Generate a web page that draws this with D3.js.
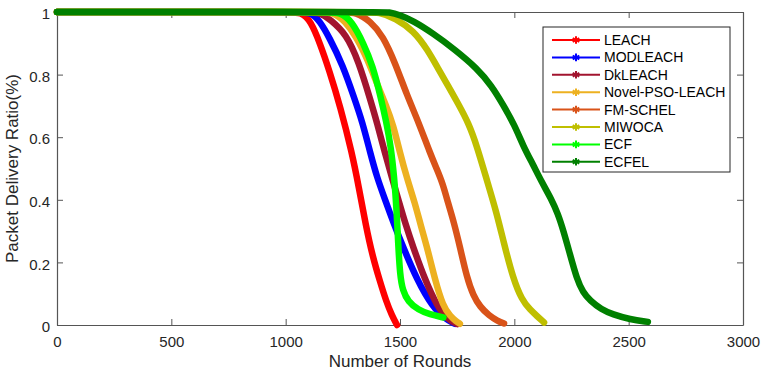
<!DOCTYPE html>
<html>
<head>
<meta charset="utf-8">
<script src="https://cdn.jsdelivr.net/npm/d3@7"></script>
<style>
  html, body { margin: 0; padding: 0; background: #ffffff; }
  svg { display: block; font-family: "Liberation Sans", Arial, Helvetica, sans-serif; }
</style>
</head>
<body>
<svg id="chart" width="763" height="373"></svg>
<script>
// Packet delivery ratio vs. rounds for each clustering protocol: [round, ratio]
const LEACH = [[0,1],[1000,1],[1070,1],[1110,0.97],[1150,0.9],[1190,0.815],[1240,0.695],[1290,0.55],[1320,0.44],[1350,0.32],[1380,0.22],[1412,0.14],[1440,0.075],[1465,0.03],[1487,0]];
const MODLEACH = [[0,1],[1040,1],[1110,1],[1150,0.97],[1190,0.92],[1250,0.83],[1300,0.725],[1335,0.65],[1370,0.55],[1400,0.47],[1435,0.40],[1475,0.32],[1513,0.25],[1574,0.145],[1640,0.06],[1700,0.018],[1740,0.004]];
const DkLEACH = [[0,1],[1080,1],[1150,1],[1195,0.975],[1265,0.93],[1320,0.84],[1370,0.72],[1400,0.645],[1434,0.55],[1465,0.47],[1495,0.395],[1525,0.32],[1557,0.25],[1609,0.145],[1662,0.06],[1710,0.016],[1750,0.003]];
const NovelPSOLEACH = [[0,1],[1140,1],[1210,1],[1260,0.97],[1310,0.92],[1360,0.845],[1400,0.77],[1440,0.70],[1470,0.64],[1500,0.55],[1530,0.47],[1565,0.39],[1590,0.32],[1618,0.25],[1653,0.145],[1688,0.06],[1720,0.028],[1745,0.012],[1762,0.004]];
const FMSCHEL = [[0,1],[1240,1],[1310,1],[1370,0.97],[1425,0.925],[1480,0.835],[1530,0.735],[1580,0.65],[1631,0.55],[1660,0.50],[1688,0.45],[1710,0.39],[1735,0.33],[1762,0.25],[1793,0.15],[1820,0.095],[1850,0.058],[1890,0.03],[1925,0.014],[1955,0.005]];
const MIWOCA = [[0,1],[1340,1],[1410,1],[1480,0.98],[1560,0.94],[1620,0.88],[1670,0.815],[1710,0.765],[1752,0.71],[1800,0.645],[1835,0.575],[1885,0.45],[1920,0.365],[1955,0.26],[1994,0.15],[2033,0.08],[2070,0.048],[2100,0.028],[2130,0.008]];
const ECF = [[0,1],[1170,1],[1240,1],[1290,0.97],[1340,0.9],[1380,0.83],[1415,0.73],[1440,0.65],[1460,0.57],[1475,0.47],[1485,0.37],[1492,0.26],[1500,0.16],[1512,0.11],[1535,0.075],[1580,0.048],[1630,0.034],[1690,0.024]];
const ECFEL = [[0,1],[1400,1],[1455,1],[1500,0.99],[1557,0.972],[1644,0.932],[1740,0.88],[1837,0.82],[1900,0.765],[1950,0.705],[2000,0.64],[2040,0.57],[2080,0.515],[2121,0.455],[2160,0.405],[2191,0.355],[2215,0.3],[2240,0.235],[2274,0.145],[2300,0.105],[2331,0.078],[2380,0.05],[2430,0.034],[2506,0.018],[2584,0.01]];

const seriesNames = ["LEACH","MODLEACH","DkLEACH","Novel-PSO-LEACH","FM-SCHEL","MIWOCA","ECF","ECFEL"];
const seriesData = [LEACH, MODLEACH, DkLEACH, NovelPSOLEACH, FMSCHEL, MIWOCA, ECF, ECFEL];
const seriesColors = ["#ff0000","#0000ff","#a2142f","#edb120","#d95319","#bfbf00","#00ff00","#008000"];

const xTicks = [0, 500, 1000, 1500, 2000, 2500, 3000];
const yTicks = [0, 0.2, 0.4, 0.6, 0.8, 1];
const xTitle = "Number of Rounds";
const yTitle = "Packet Delivery Ratio(%)";

const svg = d3.select("#chart");
const W = 763, H = 373;
const plot = { left: 57, right: 743, top: 12, bottom: 325 };

svg.append("rect").attr("width", W).attr("height", H).attr("fill", "#ffffff");

const x = d3.scaleLinear().domain([0, 3000]).range([plot.left, plot.right]);
const y = d3.scaleLinear().domain([0, 1]).range([plot.bottom, plot.top]);

const axisColor = "#262626";
const fmtX = d3.format("d");
const fmtY = d => String(+d.toFixed(1));

function styleAxis(g, showText) {
  g.select(".domain").attr("stroke", "#555555").attr("stroke-width", 1.2);
  g.selectAll(".tick line").attr("stroke", "#555555").attr("stroke-width", 1);
  g.selectAll(".tick text").attr("fill", axisColor).style("font-size", "15px");
  if (!showText) g.selectAll(".tick text").remove();
}

// bottom and left axes with inward ticks
svg.append("g").attr("transform", `translate(0,${plot.bottom})`)
  .call(d3.axisBottom(x).tickValues(xTicks).tickFormat(fmtX).tickSizeInner(-6).tickSizeOuter(0).tickPadding(11))
  .call(g => styleAxis(g, true));
svg.append("g").attr("transform", `translate(${plot.left},0)`)
  .call(d3.axisLeft(y).tickValues(yTicks).tickFormat(fmtY).tickSizeInner(-6).tickSizeOuter(0).tickPadding(7))
  .call(g => styleAxis(g, true))
  .call(g => g.selectAll(".tick text").attr("dy", "0.45em"));
// mirrored box edges
svg.append("g").attr("transform", `translate(0,${plot.top})`)
  .call(d3.axisTop(x).tickValues(xTicks).tickSizeInner(-6).tickSizeOuter(0))
  .call(g => styleAxis(g, false));
svg.append("g").attr("transform", `translate(${plot.right},0)`)
  .call(d3.axisRight(y).tickValues(yTicks).tickSizeInner(-6).tickSizeOuter(0))
  .call(g => styleAxis(g, false));

// axis titles
svg.append("text")
  .attr("x", (plot.left + plot.right) / 2).attr("y", 367)
  .attr("text-anchor", "middle").attr("fill", axisColor)
  .style("font-size", "17px").text(xTitle);
svg.append("text")
  .attr("transform", `translate(18,${(plot.top + plot.bottom) / 2}) rotate(-90)`)
  .attr("text-anchor", "middle").attr("fill", axisColor)
  .style("font-size", "17px").text(yTitle);

// curves
const line = d3.line()
  .x(d => x(d[0]))
  .y(d => y(d[1]))
  .curve(d3.curveBasis);

svg.append("g").selectAll("path")
  .data(seriesData)
  .join("path")
  .attr("d", line)
  .attr("fill", "none")
  .attr("stroke", (d, i) => seriesColors[i])
  .attr("stroke-width", 6.5)
  .attr("stroke-linejoin", "round")
  .attr("stroke-linecap", "round");

// legend
const legend = { x: 543, y: 27, w: 187, h: 145, row0: 40, step: 17.4 };
const lg = svg.append("g");
lg.append("rect")
  .attr("x", legend.x).attr("y", legend.y)
  .attr("width", legend.w).attr("height", legend.h)
  .attr("fill", "#ffffff").attr("stroke", "#262626").attr("stroke-width", 1);

const star = d3.symbol().type(d3.symbolAsterisk).size(40);
seriesNames.forEach((name, i) => {
  const cy = legend.row0 + i * legend.step;
  lg.append("line")
    .attr("x1", 552).attr("x2", 600).attr("y1", cy).attr("y2", cy)
    .attr("stroke", seriesColors[i]).attr("stroke-width", 2);
  lg.append("path")
    .attr("d", star)
    .attr("transform", `translate(576,${cy})`)
    .attr("fill", "none").attr("stroke", seriesColors[i]).attr("stroke-width", 2);
  lg.append("text")
    .attr("x", 604).attr("y", cy).attr("dy", "0.36em")
    .attr("fill", "#000000").style("font-size", "14px")
    .text(name);
});
</script>
</body>
</html>
